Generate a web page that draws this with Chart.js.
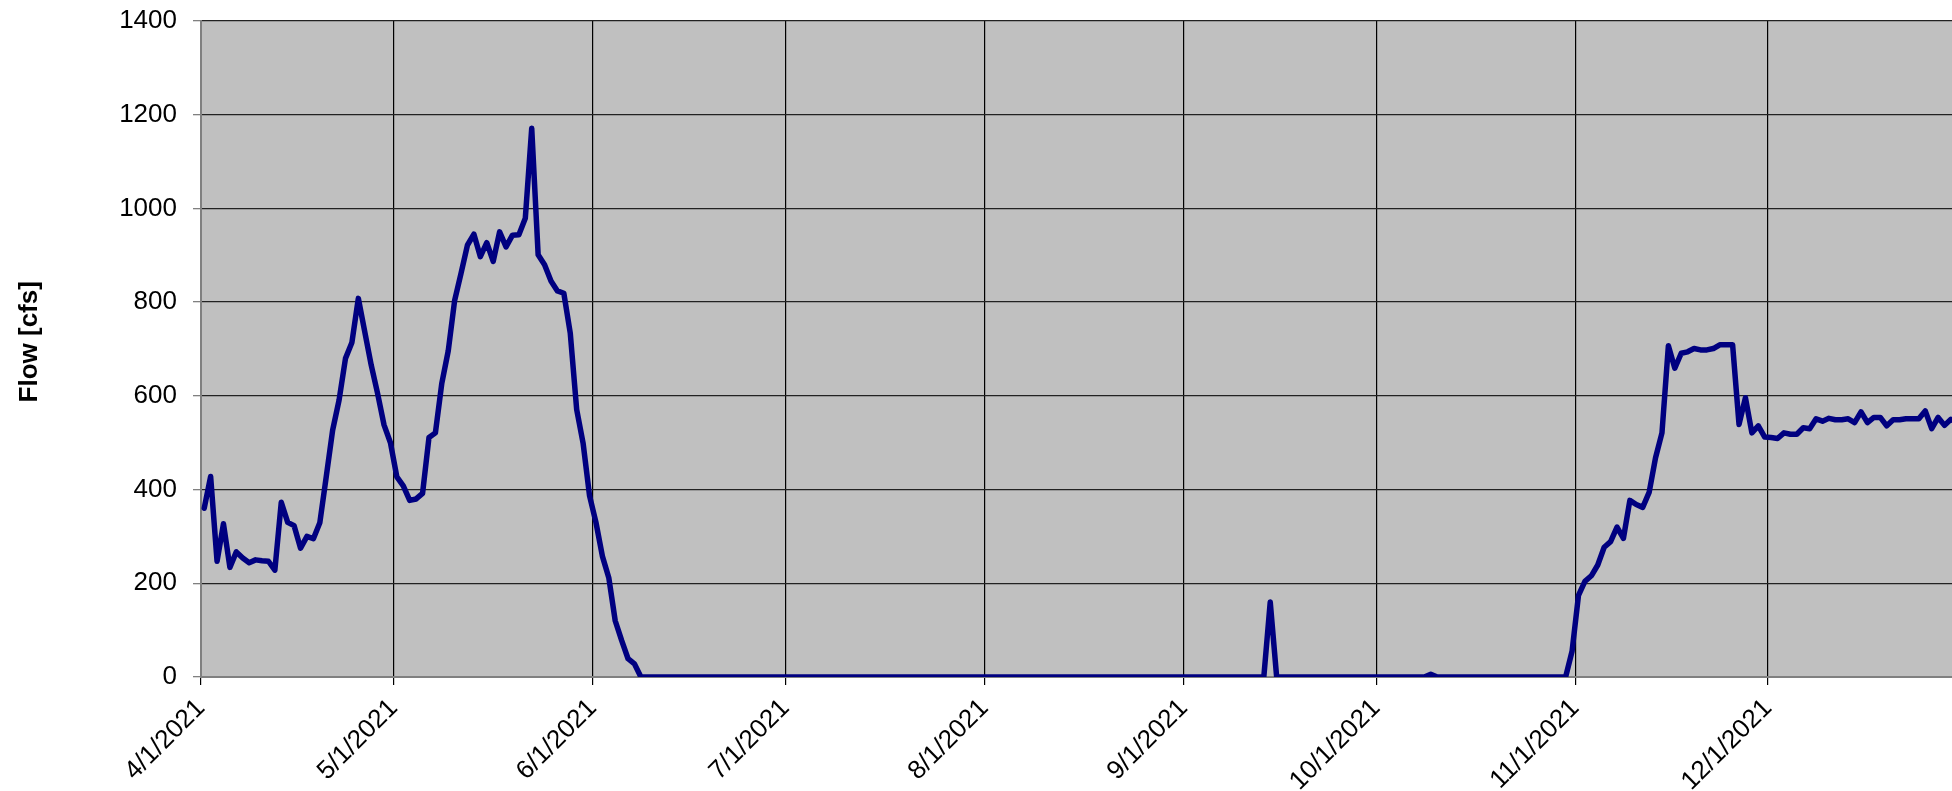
<!DOCTYPE html>
<html>
<head>
<meta charset="utf-8">
<script src="https://cdn.jsdelivr.net/npm/chart.js@4.4.1/dist/chart.umd.min.js"></script>
<style>
  html, body { margin: 0; padding: 0; background: #fff; overflow: hidden; }
  #wrap { width: 1952px; height: 791px; overflow: hidden; }
</style>
</head>
<body>
<div id="wrap"><canvas id="flowChart" width="1967" height="791"></canvas></div>
<script>
// daily flow, 4/1/2021 .. 12/31/2021
const flow = [
  360, 428, 247, 327, 234, 267, 254, 244, 250, 248,
  247, 228, 373, 330, 323, 275, 300, 295, 329, 427,
  527, 591, 680, 714, 808, 737, 666, 605, 538, 500,
  427, 408, 377, 380, 392, 511, 521, 627, 696, 804,
  862, 922, 945, 897, 927, 887, 950, 918, 943, 944,
  979, 1171, 901, 880, 845, 824, 819, 734, 571, 499,
  387, 330, 258, 212, 120, 78, 39, 28,
  0, 0, 0, 0, 0, 0, 0, 0, 0, 0, 0, 0, 0, 0,
  0, 0, 0, 0, 0, 0, 0, 0, 0, 0, 0, 0, 0, 0,
  0, 0, 0, 0, 0, 0, 0, 0, 0, 0, 0, 0, 0, 0,
  0, 0, 0, 0, 0, 0, 0, 0, 0, 0, 0, 0, 0, 0,
  0, 0, 0, 0, 0, 0, 0, 0, 0, 0, 0, 0, 0, 0,
  0, 0, 0, 0, 0, 0, 0, 0, 0, 0, 0, 0, 0, 0,
  0, 0, 0, 0, 0, 0, 0, 0, 0, 0, 0, 0, 0, 0,
  160,
  0, 0, 0, 0, 0, 0, 0, 0, 0, 0, 0, 0,
  0, 0, 0, 0, 0, 0, 0, 0, 0, 0, 0, 0,
  6,
  0, 0, 0, 0, 0, 0, 0, 0, 0, 0, 0, 0, 0, 0, 0, 0, 0, 0, 0, 0, 0,
  55, 174, 204, 216, 239, 277, 289, 320, 296, 377,
  368, 362, 394, 468, 521, 707, 659, 691, 694, 701,
  698, 698, 701, 709, 709, 709, 539, 596, 521, 536,
  512, 511, 509, 521, 518, 518, 532, 530, 551, 546,
  552, 549, 549, 551, 543, 566, 543, 554, 554, 536,
  549, 549, 551, 551, 551, 568, 530, 554, 537, 550,
  542, 548
];

const tickLabels = ['4/1/2021', '5/1/2021', '6/1/2021', '7/1/2021', '8/1/2021',
                    '9/1/2021', '10/1/2021', '11/1/2021', '12/1/2021'];
const yTicks = [0, 200, 400, 600, 800, 1000, 1200, 1400];

// one entry per day
const days = [];
for (let d = new Date(2021, 3, 1); d <= new Date(2021, 11, 31); d.setDate(d.getDate() + 1)) {
  days.push((d.getMonth() + 1) + '/' + d.getDate() + '/' + d.getFullYear());
}
const points = flow.map((v, i) => ({ x: i, y: v }));

// Excel date axis: each day sits in the middle of its slot, month lines on slot edges
const monthEdges = tickLabels.map(t => days.indexOf(t) - 0.5);
const font = "'Liberation Sans', Arial, sans-serif";

const plotBg = {
  id: 'plotBg',
  beforeDraw(chart) {
    const a = chart.chartArea, ctx = chart.ctx;
    ctx.save();
    ctx.fillStyle = '#c0c0c0';
    ctx.fillRect(a.left, a.top, a.right - a.left, a.bottom - a.top);
    ctx.restore();
  }
};

new Chart(document.getElementById('flowChart'), {
  type: 'line',
  data: {
    datasets: [{
      data: points,
      borderColor: '#000080',
      borderWidth: 5.5,
      borderJoinStyle: 'round',
      borderCapStyle: 'round',
      pointRadius: 0,
      tension: 0
    }]
  },
  options: {
    responsive: false,
    animation: false,
    devicePixelRatio: 1,
    layout: { padding: { top: 21, left: 0, right: 0, bottom: 0 } },
    plugins: { legend: { display: false }, tooltip: { enabled: false } },
    scales: {
      x: {
        type: 'linear',
        min: -0.5,
        max: days.length - 0.5,
        afterBuildTicks: s => { s.ticks = monthEdges.map(v => ({ value: v })); },
        grid: { color: '#000', lineWidth: 1.2, tickLength: 8, tickColor: '#000' },
        border: { color: '#808080', width: 2 },
        ticks: {
          autoSkip: false,
          maxRotation: 45,
          minRotation: 45,
          padding: 8,
          color: '#000',
          font: { family: font, size: 26 },
          callback: v => tickLabels[monthEdges.indexOf(v)]
        },
        afterFit: s => { s.height = 114; }
      },
      y: {
        min: 0,
        max: 1400,
        afterBuildTicks: s => { s.ticks = yTicks.map(v => ({ value: v })); },
        grid: { color: '#222', lineWidth: 1.3, tickLength: 8, tickColor: '#808080' },
        border: { color: '#808080', width: 2 },
        ticks: {
          padding: 16,
          color: '#000',
          font: { family: font, size: 26, lineHeight: 0.3 },
          callback: v => String(v)
        },
        title: {
          display: true,
          text: '  Flow [cfs]',
          color: '#000',
          font: { family: font, size: 26, weight: 'bold' },
          padding: { top: 14, bottom: 0 }
        },
        afterFit: s => { s.width = 201; }
      }
    }
  },
  plugins: [plotBg]
});
</script>
</body>
</html>
